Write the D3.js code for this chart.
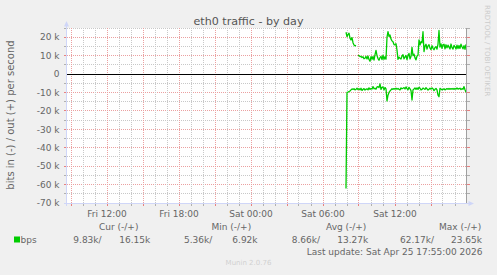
<!DOCTYPE html>
<html>
<head>
<meta charset="utf-8">
<script src="https://cdn.jsdelivr.net/npm/d3@7"></script>
<style>
html, body { margin: 0; padding: 0; background: #f0f0f0; }
svg { display: block; font-family: "DejaVu Sans", sans-serif; }
</style>
</head>
<body>
<div id="chart"></div>
<script>
// munin eth0 - by day

const title = "eth0 traffic - by day";
const yLabel = "bits in (-) / out (+) per second";
const firstSample = new Date(Date.UTC(2026, 3, 25, 7, 55)); // Sat 07:55
const stepMinutes = 5;

// out (+), kbit/s, one per 5 min sample
const outK = [
  22.7, 20.3, 21.5, 22.2, 19.5, 18.5, 19.8, 17.0, 15.8, 15.3,
  15.6, null, 10.2, 10.0, 9.5, 9.6, 9.0, 9.4, 8.3, 8.6,
  9.6, 8.2, 9.8, 7.9, 6.92, 9.5, 8.0, 9.6, 7.6, 10.5,
  12.8, 10.0, 8.4, 7.5, 8.9, 9.6, 7.8, 10.2, 8.0, 9.4,
  8.1, 20.0, 23.0, 20.5, 21.2, 19.0, 18.0, 17.5, 16.0, 15.8,
  16.5, 13.0, 8.0, 9.2, 8.6, 8.2, 9.8, 10.5, 8.3, 9.2,
  10.1, 7.9, 10.0, 11.2, 8.2, 9.5, 14.5, 10.0, 10.8, 8.8,
  7.7, 9.8, 10.2, 18.5, 15.8, 17.6, 17.0, 23.0, 12.2, 15.2,
  16.2, 13.6, 15.3, 15.9, 14.1, 13.3, 15.4, 14.0, 13.2, 14.4,
  14.9, 13.5, 16.3, 23.65, 14.6, 16.4, 14.0, 15.9, 16.2, 13.7,
  15.9, 14.2, 15.7, 14.6, 13.6, 16.3, 14.3, 13.6, 15.6, 14.8,
  13.6, 15.7, 13.8, 15.5, 13.9, 16.2, 14.8, 13.7, 15.4, 13.4,
  16.15
];

// in (-), kbit/s, drawn below zero
const inK = [
  62.17, 9.9, 9.8, 9.5, 9.2, 8.6, 8.1, 8.3, 8.0, 8.6,
  8.2, 7.7, 8.4, 8.0, 8.6, 7.7, 8.9, 8.3, 7.9, 8.7,
  8.2, 8.0, 8.6, 7.5, 8.3, 7.9, 8.1, 6.8, 8.0, 7.7,
  8.2, 7.0, 6.8, 7.4, 5.36, 8.3, 7.2, 7.0, 8.6, 7.3,
  8.0, 14.6, 11.5, 10.0, 9.2, 8.6, 8.0, 8.3, 7.9, 8.2,
  7.7, 8.2, 7.8, 8.3, 8.6, 7.5, 8.0, 7.7, 7.4, 8.1,
  7.0, 7.9, 8.5, 7.2, 8.0, 9.0, 14.1, 8.6, 8.1, 7.5,
  8.3, 7.5, 8.3, 7.2, 7.7, 8.6, 8.3, 7.6, 8.0, 8.3,
  7.4, 8.0, 8.7, 8.2, 7.7, 8.2, 7.5, 8.0, 9.0, 8.3,
  7.8, 8.6, 11.4, 12.3, 7.8, 8.1, 8.6, 8.3, 8.0, 8.6,
  8.2, 7.9, 8.3, 7.8, 8.3, 7.9, 8.2, 7.8, 8.3, 7.8,
  8.2, 7.6, 8.2, 7.9, 7.7, 8.4, 7.9, 8.3, 6.8, 8.5,
  9.83
];

const yMajorK = [-70, -60, -50, -40, -30, -20, -10, 0, 10, 20];
const legendHeads = ["Cur (-/+)", "Min (-/+)", "Avg (-/+)", "Max (-/+)"];
const legendIn = ["9.83k/", "5.36k/", "8.66k/", "62.17k/"];
const legendOut = ["16.15k", "6.92k", "13.27k", "23.65k"];
const seriesName = "bps";
const lastUpdate = "Last update: Sat Apr 25 17:55:00 2026";
const version = "Munin 2.0.76";
const watermark = "RRDTOOL / TOBI OETIKER";

const W = 497, H = 275;
const pLeft = 67, pTop = 28, pw = 400, ph = 175;

const green = "#00cc00";
const fontCol = "#666666";
const axisCol = "#cfd6f8";

const timeEnd = new Date(Date.UTC(2026, 3, 25, 18, 0));
const timeStart = new Date(timeEnd - pw * 300 * 1000);

const x = d3.scaleTime().domain([timeStart, timeEnd]).range([pLeft, pLeft + pw]);
const y = d3.scaleLinear().domain([-70000, 25000]).range([pTop + ph, pTop]);

const svg = d3.select("#chart").append("svg")
    .attr("width", W).attr("height", H);

svg.append("rect").attr("width", W).attr("height", H).attr("fill", "#f0f0f0");
svg.append("rect")
    .attr("x", pLeft).attr("y", pTop).attr("width", pw).attr("height", ph)
    .attr("fill", "#ffffff");

const snap = v => Math.round(v) + 0.5;

// grid
const grid = svg.append("g").attr("shape-rendering", "crispEdges");

const yMinor = d3.range(-70000, 25001, 5000);
yMinor.forEach(v => {
    if (v === 0) return;
    const major = v % 10000 === 0;
    const yy = snap(y(v) - 0.5);
    grid.append("line")
        .attr("x1", pLeft).attr("x2", pLeft + pw)
        .attr("y1", yy).attr("y2", yy)
        .attr("stroke", major ? "#eba0a0" : "#c8c8c8")
        .attr("stroke-dasharray", "1,1");
    grid.append("line")
        .attr("x1", pLeft - 3).attr("x2", pLeft)
        .attr("y1", yy).attr("y2", yy)
        .attr("stroke", major ? "#e88080" : "#b0b0b0");
    grid.append("line")
        .attr("x1", pLeft + pw).attr("x2", pLeft + pw + 3)
        .attr("y1", yy).attr("y2", yy)
        .attr("stroke", major ? "#e88080" : "#b0b0b0");
});

const hours = d3.utcHour.range(timeStart, timeEnd);
hours.forEach(t => {
    const major = t.getUTCHours() % 3 === 0;
    const xx = snap(x(t) - 0.5);
    grid.append("line")
        .attr("x1", xx).attr("x2", xx)
        .attr("y1", pTop).attr("y2", pTop + ph)
        .attr("stroke", major ? "#eba0a0" : "#c8c8c8")
        .attr("stroke-dasharray", "1,1");
    grid.append("line")
        .attr("x1", xx).attr("x2", xx)
        .attr("y1", pTop + ph).attr("y2", pTop + ph + 3)
        .attr("stroke", major ? "#e88080" : "#b0b0b0");
});

// axis labels
svg.append("g")
    .selectAll("text")
    .data(yMajorK)
    .join("text")
        .attr("x", 59.5)
        .attr("y", d => y(d * 1000))
        .attr("dy", "0.36em")
        .attr("text-anchor", "end")
        .attr("font-size", 9)
        .attr("fill", fontCol)
        .text(d => d === 0 ? "0" : d + " k");

const fmt = d3.utcFormat("%a %H:%M");
svg.append("g")
    .selectAll("text")
    .data(hours.filter(t => t.getUTCHours() % 6 === 0))
    .join("text")
        .attr("x", d => x(d))
        .attr("y", 216.5)
        .attr("text-anchor", "middle")
        .attr("font-size", 9)
        .attr("fill", fontCol)
        .text(d => fmt(d));

// zero rule
svg.append("line")
    .attr("x1", pLeft).attr("x2", pLeft + pw)
    .attr("y1", snap(y(0) - 0.5)).attr("y2", snap(y(0) - 0.5))
    .attr("stroke", "#000").attr("shape-rendering", "crispEdges");

// series
const pts = (arr, sign) => arr.map((v, i) => ({
    t: new Date(+firstSample + i * stepMinutes * 60000),
    v: v == null ? null : sign * v * 1000
}));

const line = d3.line()
    .defined(d => d.v != null)
    .x(d => x(d.t))
    .y(d => y(d.v));

svg.append("g")
    .attr("fill", "none")
    .attr("stroke", green)
    .attr("stroke-width", 1.3)
    .attr("stroke-linejoin", "round")
    .selectAll("path")
    .data([pts(inK, -1), pts(outK, 1)])
    .join("path")
        .attr("d", line);

// axes and frame
const axes = svg.append("g").attr("shape-rendering", "crispEdges");
axes.append("line")
    .attr("x1", pLeft - 0.5).attr("x2", pLeft - 0.5)
    .attr("y1", pTop - 4).attr("y2", pTop + ph + 3)
    .attr("stroke", axisCol);
axes.append("line")
    .attr("x1", pLeft - 3).attr("x2", pLeft + pw + 3)
    .attr("y1", pTop + ph + 0.5).attr("y2", pTop + ph + 0.5)
    .attr("stroke", axisCol);
axes.append("line")
    .attr("x1", pLeft + pw - 0.5).attr("x2", pLeft + pw - 0.5)
    .attr("y1", pTop).attr("y2", pTop + ph)
    .attr("stroke", "#a0a0a0");

svg.append("path")
    .attr("d", `M${pLeft - 3},${pTop - 1.5}L${pLeft + 2},${pTop - 1.5}L${pLeft - 0.5},${pTop - 7}Z`)
    .attr("fill", axisCol);
svg.append("path")
    .attr("d", `M${pLeft + pw + 1.5},${pTop + ph - 2}L${pLeft + pw + 1.5},${pTop + ph + 3}L${pLeft + pw + 7},${pTop + ph + 0.5}Z`)
    .attr("fill", axisCol);

// titles
svg.append("text")
    .attr("x", 248.5).attr("y", 24.8)
    .attr("text-anchor", "middle")
    .attr("font-size", 11.1)
    .attr("fill", "#555555")
    .text(title);

svg.append("text")
    .attr("transform", "translate(13.5,115) rotate(-90)")
    .attr("text-anchor", "middle")
    .attr("font-size", 10)
    .attr("fill", fontCol)
    .text(yLabel);

svg.append("text")
    .attr("transform", "translate(484.5,5) rotate(90)")
    .attr("font-size", 7.1)
    .attr("fill", "#cccccc")
    .text(watermark);

// legend
const headX = [99, 211.5, 326, 439];
const inX = [73.3, 184, 291.7, 400];
const outX = [119.3, 232.3, 337.3, 451];

const legend = svg.append("g").attr("font-size", 9).attr("fill", fontCol);
legendHeads.forEach((s, i) => legend.append("text").attr("x", headX[i]).attr("y", 230).text(s));
legendIn.forEach((s, i) => legend.append("text").attr("x", inX[i]).attr("y", 242.5).text(s));
legendOut.forEach((s, i) => legend.append("text").attr("x", outX[i]).attr("y", 242.5).text(s));
legend.append("text").attr("x", 20.5).attr("y", 242.5).text(seriesName);
legend.append("rect")
    .attr("x", 14).attr("y", 236.5).attr("width", 6).attr("height", 6)
    .attr("fill", green);
legend.append("text").attr("x", 482.5).attr("y", 255)
    .attr("text-anchor", "end").text(lastUpdate);

svg.append("text")
    .attr("x", 248.5).attr("y", 265)
    .attr("text-anchor", "middle")
    .attr("font-size", 7)
    .attr("fill", "#d0d0d0")
    .text(version);
</script>
</body>
</html>
